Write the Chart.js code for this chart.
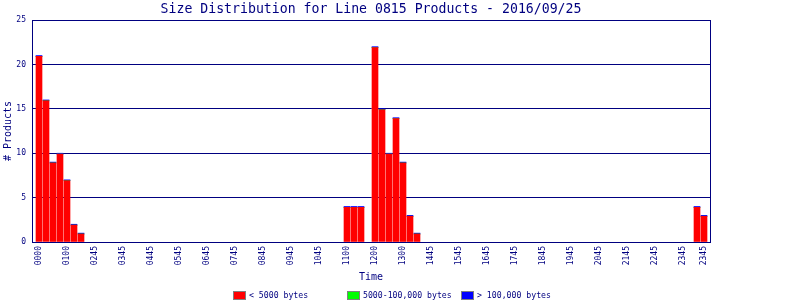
<!DOCTYPE html>
<html>
<head>
<meta charset="utf-8">
<script src="https://cdn.jsdelivr.net/npm/chart.js@4/dist/chart.umd.min.js"></script>
<style>
    html, body { margin: 0; padding: 0; background: #ffffff; }
    #wrap { width: 800px; height: 300px; }
</style>
</head>
<body>
<div id="wrap"><canvas id="sizeChart" width="800" height="300"></canvas></div>
<script>
// 96 quarter-hour slots (0 = 0000 ... 95 = 2345), only slots with products are listed
const slotCount = 96;
const barSlots     = [0, 1, 2, 3, 4, 5, 6, 44, 45, 46, 48, 49, 50, 51, 52, 53, 54, 94, 95];
const smallCounts  = [20.9, 15.9, 8.9, 9.9, 6.9, 1.9, 0.9, 3.9, 3.9, 3.9, 21.9, 14.9, 9.9, 13.9, 8.9, 2.9, 0.9, 3.9, 2.9];
const mediumCounts = [0, 0, 0, 0, 0, 0, 0, 0, 0, 0, 0, 0, 0, 0, 0, 0, 0, 0, 0];
const largeCounts  = [0.1, 0.1, 0.1, 0.1, 0.1, 0.1, 0.1, 0.1, 0.1, 0.1, 0.1, 0.1, 0.1, 0.1, 0.1, 0.1, 0.1, 0.1, 0.1];

const tickSlots  = [0, 4, 8, 12, 16, 20, 24, 28, 32, 36, 40, 44, 48, 52, 56, 60, 64, 68, 72, 76, 80, 84, 88, 92, 95];
const tickLabels = ['0000', '0100', '0245', '0345', '0445', '0545', '0645', '0745', '0845', '0945', '1045',
                    '1100', '1200', '1300', '1445', '1545', '1645', '1745', '1845', '1945', '2045',
                    '2145', '2245', '2345', '2345'];

const seriesNames  = ['< 5000 bytes', '5000-100,000 bytes', '> 100,000 bytes'];
const seriesColors = ['#ff0000', '#00ff00', '#0000ff'];

const navy = '#000080';
const mono = "'DejaVu Sans Mono', monospace";

function toPoints(values) {
    return barSlots.map((slot, i) => ({ x: slot, y: values[i] }));
}

// box round the plot and the fixed-column legend under it
const framePlugin = {
    id: 'frame',
    afterDraw(chart) {
        const { ctx, chartArea } = chart;
        ctx.save();
        ctx.strokeStyle = navy;
        ctx.lineWidth = 1;
        ctx.strokeRect(Math.round(chartArea.left) + 0.5, Math.round(chartArea.top) + 0.5,
            Math.round(chartArea.right - chartArea.left), Math.round(chartArea.bottom - chartArea.top));

        ctx.font = '8.2px ' + mono;
        ctx.textBaseline = 'middle';
        ctx.textAlign = 'left';
        seriesNames.forEach((name, i) => {
            const x = 233 + i * 114;
            const y = 291;
            ctx.fillStyle = seriesColors[i];
            ctx.fillRect(x, y, 12, 8);
            ctx.strokeStyle = '#808080';
            ctx.strokeRect(x + 0.5, y + 0.5, 12, 8);
            ctx.fillStyle = navy;
            ctx.fillText(name, x + 16, y + 4.5);
        });
        ctx.restore();
    }
};

const datasets = [smallCounts, mediumCounts, largeCounts].map((values, i) => ({
    label: seriesNames[i],
    data: toPoints(values),
    backgroundColor: seriesColors[i],
    borderWidth: 0,
    barThickness: 6
}));

new Chart(document.getElementById('sizeChart'), {
    type: 'bar',
    data: {
        datasets: datasets
    },
    options: {
        responsive: false,
        animation: false,
        layout: {
            padding: { left: 0, right: 90, top: 0, bottom: 0 }
        },
        plugins: {
            legend: { display: false },
            tooltip: { enabled: false },
            title: {
                display: true,
                text: 'Size Distribution for Line 0815 Products - 2016/09/25',
                color: navy,
                fullSize: false,
                font: { family: mono, size: 13.2, weight: 'normal', lineHeight: 1.2 },
                padding: { top: 2, bottom: 2.2 }
            }
        },
        scales: {
            x: {
                type: 'linear',
                stacked: true,
                offset: false,
                min: -1,
                max: -1 + 678 / 7,
                grid: { display: false, drawTicks: false },
                border: { display: true, color: navy },
                afterBuildTicks(scale) {
                    scale.ticks = tickSlots.map(v => ({ value: v }));
                },
                ticks: {
                    autoSkip: false,
                    maxRotation: 90,
                    minRotation: 90,
                    padding: 4,
                    color: navy,
                    font: { family: mono, size: 8 },
                    callback: (value, index) => tickLabels[index]
                },
                title: {
                    display: true,
                    text: 'Time',
                    color: navy,
                    font: { family: mono, size: 10, lineHeight: 1.2 },
                    padding: { top: 0, bottom: 17 }
                },
                afterFit(scale) { scale.height = 58; }
            },
            y: {
                stacked: true,
                min: 0,
                max: 25,
                grid: { color: navy, drawTicks: false },
                border: { display: true, color: navy },
                ticks: {
                    stepSize: 5,
                    padding: 6,
                    color: navy,
                    font: { family: mono, size: 8 }
                },
                title: {
                    display: true,
                    text: '# Products',
                    color: navy,
                    font: { family: mono, size: 10, lineHeight: 1.2 },
                    padding: { top: 2, bottom: 0 }
                },
                afterFit(scale) { scale.width = 32; }
            }
        }
    },
    plugins: [framePlugin]
});
</script>
</body>
</html>
